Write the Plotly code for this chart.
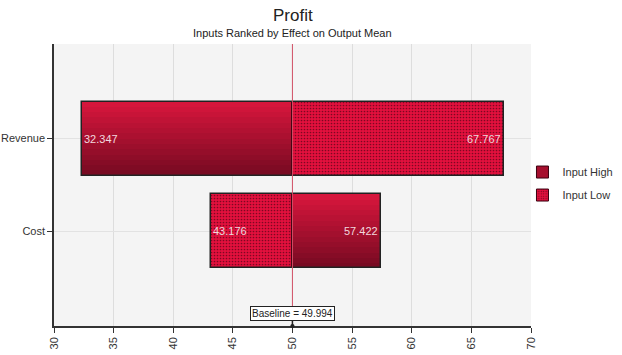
import plotly.graph_objects as go

categories = ["Revenue", "Cost"]
cat_pos = [2, 1]
low_values = [32.347, 43.176]     # smallest output per input
high_values = [67.767, 57.422]    # largest output per input
low_input_output = [67.767, 43.176]   # output with the input at its low setting
high_input_output = [32.347, 57.422]  # output with the input at its high setting
baseline = 49.994
x_ticks = [30, 35, 40, 45, 50, 55, 60, 65, 70]

FONT = "Liberation Sans"
HIGH_TOP = (214, 22, 60)
HIGH_BOT = (120, 10, 34)
HIGH_MID = "#a60f2e"
LOW_COLOR = "#e3103d"
BAR_W = 0.8
N_BANDS = 14

fig = go.Figure()

high_x = [h - baseline for h in high_input_output]
low_x = [l - baseline for l in low_input_output]

# Input High halves (solid, carries the legend entry)
fig.add_trace(go.Bar(
    y=cat_pos, x=high_x, base=[baseline] * 2,
    orientation="h", width=BAR_W, name="Input High", legendgroup="high",
    marker=dict(color=HIGH_MID, line=dict(width=1, color="#3a0010")),
    hoverinfo="skip",
))
# vertical gradient bands over the Input High halves
for i in range(N_BANDS):
    t = i / (N_BANDS - 1)
    c = tuple(round(b + (a - b) * t) for a, b in zip(HIGH_TOP, HIGH_BOT))
    fig.add_trace(go.Bar(
        y=cat_pos, x=high_x, base=[baseline] * 2, orientation="h",
        width=BAR_W / N_BANDS, offset=-BAR_W / 2 + i * BAR_W / N_BANDS,
        marker=dict(color=f"rgb{c}", line=dict(width=0)),
        showlegend=False, hoverinfo="skip", legendgroup="high",
    ))
# Input Low halves (dotted)
fig.add_trace(go.Bar(
    y=cat_pos, x=low_x, base=[baseline] * 2,
    orientation="h", width=BAR_W, name="Input Low", legendgroup="low",
    marker=dict(color=LOW_COLOR, line=dict(width=1, color="#3a0010"),
                pattern=dict(shape=".", fillmode="overlay", fgcolor="#1a0008",
                             size=3, solidity=0.25)),
    hoverinfo="skip",
))
# outline of the whole bar
fig.add_trace(go.Bar(
    y=cat_pos, x=[h - l for l, h in zip(low_values, high_values)], base=low_values,
    orientation="h", width=BAR_W, showlegend=False,
    marker=dict(color="rgba(0,0,0,0)", line=dict(width=1.5, color="#222222")),
    hoverinfo="skip",
))

annotations = []
for yv, lo, hi in zip(cat_pos, low_values, high_values):
    annotations.append(dict(x=lo, y=yv, xref="x", yref="y", text=f"{lo:.3f}",
                            showarrow=False, xanchor="left", xshift=0,
                            font=dict(family=FONT, size=11, color="#f2d8de")))
    annotations.append(dict(x=hi, y=yv, xref="x", yref="y", text=f"{hi:.3f}",
                            showarrow=False, xanchor="right", xshift=-1,
                            font=dict(family=FONT, size=11, color="#f2d8de")))

annotations.append(dict(x=baseline, y=0, xref="x", yref="paper",
                        text=f"Baseline = {baseline:.3f}", showarrow=True,
                        ax=0, ay=-13, arrowhead=6, arrowsize=0.7, arrowwidth=1.5,
                        arrowcolor="#222222", bgcolor="white", bordercolor="#222222",
                        borderwidth=1, borderpad=1,
                        font=dict(family=FONT, size=10, color="#222222")))
annotations.append(dict(x=0.5, y=1.0, xref="paper", yref="paper", yanchor="bottom",
                        xanchor="center", yshift=17, showarrow=False, text="Profit",
                        font=dict(family=FONT, size=17, color="#222222")))
annotations.append(dict(x=0.5, y=1.0, xref="paper", yref="paper", yanchor="bottom",
                        xanchor="center", yshift=3, showarrow=False,
                        text="Inputs Ranked by Effect on Output Mean",
                        font=dict(family=FONT, size=11, color="#222222")))

fig.update_layout(
    width=622, height=355,
    margin=dict(l=54, r=91, t=44, b=29, autoexpand=False),
    paper_bgcolor="white", plot_bgcolor="#f4f4f4",
    barmode="overlay", bargap=0,
    font=dict(family=FONT, size=11, color="#333333"),
    shapes=[dict(type="line", x0=baseline, x1=baseline, y0=0, y1=1,
                 xref="x", yref="paper", line=dict(color="#d25066", width=1))],
    annotations=annotations,
    legend=dict(xref="container", yref="container", x=0.84, y=0.483,
                xanchor="left", yanchor="middle",
                font=dict(family=FONT, size=11, color="#333333"),
                bgcolor="rgba(0,0,0,0)", itemwidth=30, tracegroupgap=4),
    xaxis=dict(range=[30, 70], tickvals=x_ticks, ticktext=[str(v) for v in x_ticks],
               tickangle=-90, showgrid=True, gridcolor="#dddddd", gridwidth=1,
               zeroline=False, showline=True, linecolor="#333333", linewidth=1.5,
               ticks="outside", ticklen=5, tickcolor="#333333", automargin=False,
               tickfont=dict(family=FONT, size=11, color="#333333")),
    yaxis=dict(range=[-0.02, 3.02], tickvals=cat_pos, ticktext=categories,
               showgrid=True, gridcolor="#e2e2e2", zeroline=False, showline=True,
               linecolor="#333333", linewidth=1.5, ticks="outside", ticklen=5,
               tickcolor="#333333", automargin=False,
               tickfont=dict(family=FONT, size=11, color="#333333")),
)

fig.write_html("out.html", config={"displayModeBar": False},
               post_script="document.body.style.margin='0';")
